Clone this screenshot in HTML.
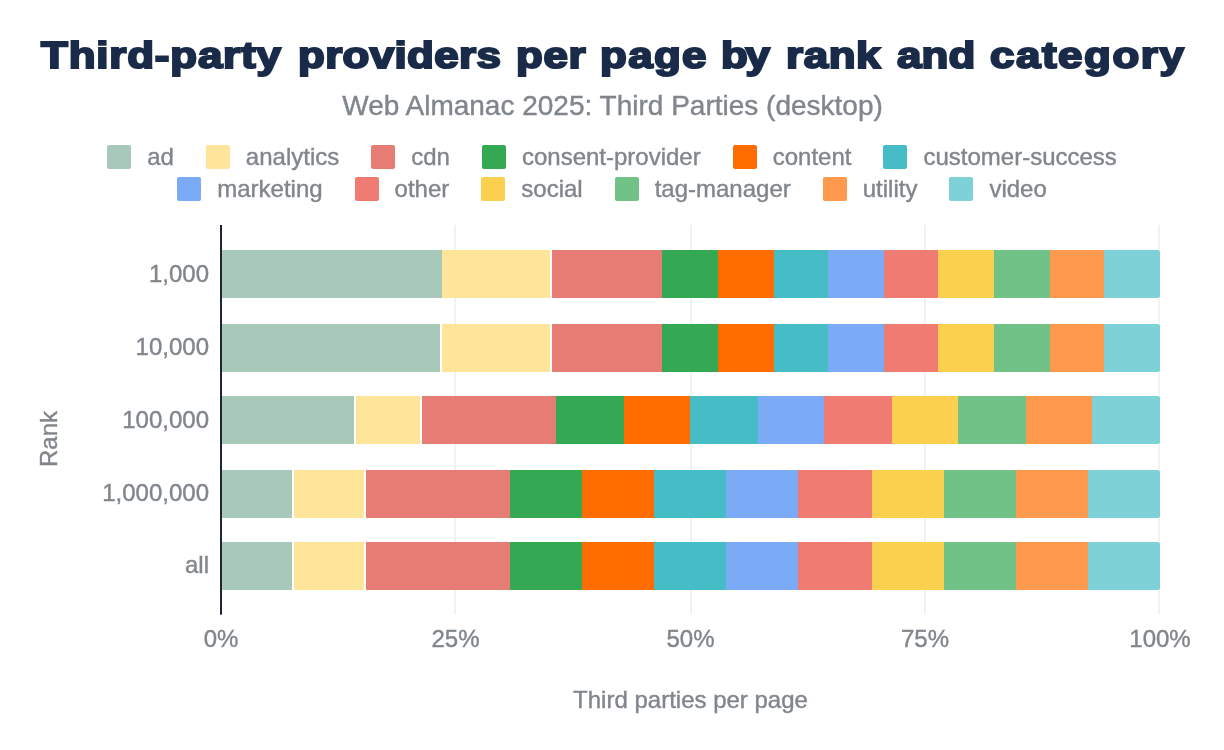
<!DOCTYPE html>
<html><head><meta charset="utf-8"><title>Third-party providers per page by rank and category</title>
<style>
html,body{margin:0;padding:0;background:#fff}
body{width:1224px;height:750px;position:relative;overflow:hidden;font-family:"Liberation Sans",sans-serif;color:#80868b}
.t{position:absolute;white-space:nowrap;line-height:1;-webkit-text-stroke:0.4px #80868b}
#title{left:0;top:37px;width:1224px;height:40px;font-size:37.2px;font-weight:bold;color:#1a2b49;-webkit-text-stroke:2.1px #1a2b49;text-shadow:0.35px 0 0 #1a2b49,-0.35px 0 0 #1a2b49}
#title span{position:absolute;top:0;transform-origin:0 0;transform:scaleX(1.18);white-space:nowrap}
#sub{left:0;width:1225px;text-align:center;top:92px;font-size:28px}
.leg{position:absolute;left:0;width:1224px;display:flex;justify-content:center;font-size:24px;line-height:24px;height:24px}
.li{display:flex;align-items:center;margin:0 16px}
.li i{display:block;width:24px;height:24px;border-radius:2px;margin-right:16px}
.li b{font-weight:normal;display:block;-webkit-text-stroke:0.4px #80868b}
.yl{right:1015px;font-size:24px}
.xl{font-size:24px;transform:translateX(-50%);top:627px}
</style></head><body>
<svg width="1224" height="750" viewBox="0 0 1224 750" style="position:absolute;left:0;top:0"><rect x="454" y="225" width="2" height="389.5" fill="#f1f2f3"/><rect x="690" y="225" width="2" height="389.5" fill="#f1f2f3"/><rect x="924" y="225" width="2" height="389.5" fill="#f1f2f3"/><rect x="1158" y="225" width="2" height="389.5" fill="#f1f2f3"/><rect x="222" y="250" width="220" height="48" fill="#a8c9b9"/><rect x="442" y="250" width="108" height="48" fill="#ffe599"/><rect x="552" y="250" width="110" height="48" fill="#e67c73"/><rect x="662" y="250" width="56" height="48" fill="#34a853"/><rect x="718" y="250" width="56" height="48" fill="#ff6d01"/><rect x="774" y="250" width="54" height="48" fill="#46bdc6"/><rect x="828" y="250" width="56" height="48" fill="#7baaf7"/><rect x="884" y="250" width="54" height="48" fill="#f07b72"/><rect x="938" y="250" width="56" height="48" fill="#fcd04f"/><rect x="994" y="250" width="56" height="48" fill="#71c287"/><rect x="1050" y="250" width="54" height="48" fill="#ff994d"/><path d="M1104 250H1157.5a2.5 2.5 0 0 1 2.5 2.5V295.5a2.5 2.5 0 0 1 -2.5 2.5H1104Z" fill="#7ed1d7"/><rect x="222" y="324" width="218" height="48" fill="#a8c9b9"/><rect x="442" y="324" width="108" height="48" fill="#ffe599"/><rect x="552" y="324" width="110" height="48" fill="#e67c73"/><rect x="662" y="324" width="56" height="48" fill="#34a853"/><rect x="718" y="324" width="56" height="48" fill="#ff6d01"/><rect x="774" y="324" width="54" height="48" fill="#46bdc6"/><rect x="828" y="324" width="56" height="48" fill="#7baaf7"/><rect x="884" y="324" width="54" height="48" fill="#f07b72"/><rect x="938" y="324" width="56" height="48" fill="#fcd04f"/><rect x="994" y="324" width="56" height="48" fill="#71c287"/><rect x="1050" y="324" width="54" height="48" fill="#ff994d"/><path d="M1104 324H1157.5a2.5 2.5 0 0 1 2.5 2.5V369.5a2.5 2.5 0 0 1 -2.5 2.5H1104Z" fill="#7ed1d7"/><rect x="222" y="396" width="132" height="48" fill="#a8c9b9"/><rect x="356" y="396" width="64" height="48" fill="#ffe599"/><rect x="422" y="396" width="134" height="48" fill="#e67c73"/><rect x="556" y="396" width="68" height="48" fill="#34a853"/><rect x="624" y="396" width="66" height="48" fill="#ff6d01"/><rect x="690" y="396" width="68" height="48" fill="#46bdc6"/><rect x="758" y="396" width="66" height="48" fill="#7baaf7"/><rect x="824" y="396" width="68" height="48" fill="#f07b72"/><rect x="892" y="396" width="66" height="48" fill="#fcd04f"/><rect x="958" y="396" width="68" height="48" fill="#71c287"/><rect x="1026" y="396" width="66" height="48" fill="#ff994d"/><path d="M1092 396H1157.5a2.5 2.5 0 0 1 2.5 2.5V441.5a2.5 2.5 0 0 1 -2.5 2.5H1092Z" fill="#7ed1d7"/><rect x="222" y="470" width="70" height="48" fill="#a8c9b9"/><rect x="294" y="470" width="70" height="48" fill="#ffe599"/><rect x="366" y="470" width="144" height="48" fill="#e67c73"/><rect x="510" y="470" width="72" height="48" fill="#34a853"/><rect x="582" y="470" width="72" height="48" fill="#ff6d01"/><rect x="654" y="470" width="72" height="48" fill="#46bdc6"/><rect x="726" y="470" width="72" height="48" fill="#7baaf7"/><rect x="798" y="470" width="74" height="48" fill="#f07b72"/><rect x="872" y="470" width="72" height="48" fill="#fcd04f"/><rect x="944" y="470" width="72" height="48" fill="#71c287"/><rect x="1016" y="470" width="72" height="48" fill="#ff994d"/><path d="M1088 470H1157.5a2.5 2.5 0 0 1 2.5 2.5V515.5a2.5 2.5 0 0 1 -2.5 2.5H1088Z" fill="#7ed1d7"/><rect x="222" y="542" width="70" height="48" fill="#a8c9b9"/><rect x="294" y="542" width="70" height="48" fill="#ffe599"/><rect x="366" y="542" width="144" height="48" fill="#e67c73"/><rect x="510" y="542" width="72" height="48" fill="#34a853"/><rect x="582" y="542" width="72" height="48" fill="#ff6d01"/><rect x="654" y="542" width="72" height="48" fill="#46bdc6"/><rect x="726" y="542" width="72" height="48" fill="#7baaf7"/><rect x="798" y="542" width="74" height="48" fill="#f07b72"/><rect x="872" y="542" width="72" height="48" fill="#fcd04f"/><rect x="944" y="542" width="72" height="48" fill="#71c287"/><rect x="1016" y="542" width="72" height="48" fill="#ff994d"/><path d="M1088 542H1157.5a2.5 2.5 0 0 1 2.5 2.5V587.5a2.5 2.5 0 0 1 -2.5 2.5H1088Z" fill="#7ed1d7"/><rect x="220" y="225" width="2" height="389.7" fill="#1f2430"/></svg>
<div id="title" class="t"><span style="left:41px;letter-spacing:0.7px">Third-party</span> <span style="left:298px;letter-spacing:0.3px">providers</span> <span style="left:516px;letter-spacing:0.57px">per</span> <span style="left:599.5px;letter-spacing:1.13px">page</span> <span style="left:720.5px;letter-spacing:-2.0px">by</span> <span style="left:786px;letter-spacing:0.5px">rank</span> <span style="left:897px;letter-spacing:0.15px">and</span> <span style="left:990px;letter-spacing:1.32px">category</span></div>
<div id="sub" class="t">Web Almanac 2025: Third Parties (desktop)</div>
<div class="leg" style="top:145px"><span class="li"><i style="background:#a8c9b9"></i><b>ad</b></span><span class="li"><i style="background:#ffe599"></i><b>analytics</b></span><span class="li"><i style="background:#e67c73"></i><b>cdn</b></span><span class="li"><i style="background:#34a853"></i><b>consent-provider</b></span><span class="li"><i style="background:#ff6d01"></i><b>content</b></span><span class="li"><i style="background:#46bdc6"></i><b>customer-success</b></span></div>
<div class="leg" style="top:177px"><span class="li"><i style="background:#7baaf7"></i><b>marketing</b></span><span class="li"><i style="background:#f07b72"></i><b>other</b></span><span class="li"><i style="background:#fcd04f"></i><b>social</b></span><span class="li"><i style="background:#71c287"></i><b>tag-manager</b></span><span class="li"><i style="background:#ff994d"></i><b>utility</b></span><span class="li"><i style="background:#7ed1d7"></i><b>video</b></span></div>
<div class="t yl" style="top:262px">1,000</div>
<div class="t yl" style="top:335px">10,000</div>
<div class="t yl" style="top:408px">100,000</div>
<div class="t yl" style="top:481px">1,000,000</div>
<div class="t yl" style="top:553px">all</div>
<div class="t xl" style="left:221px">0%</div>
<div class="t xl" style="left:455.5px">25%</div>
<div class="t xl" style="left:690.5px">50%</div>
<div class="t xl" style="left:925px">75%</div>
<div class="t xl" style="left:1160px">100%</div>
<div class="t" style="left:690.5px;top:688px;font-size:24px;transform:translateX(-50%)">Third parties per page</div>
<div class="t" style="left:61px;top:467px;font-size:24px;transform-origin:0 0;transform:rotate(-90deg) translateY(-100%);line-height:1">Rank</div>
</body></html>
